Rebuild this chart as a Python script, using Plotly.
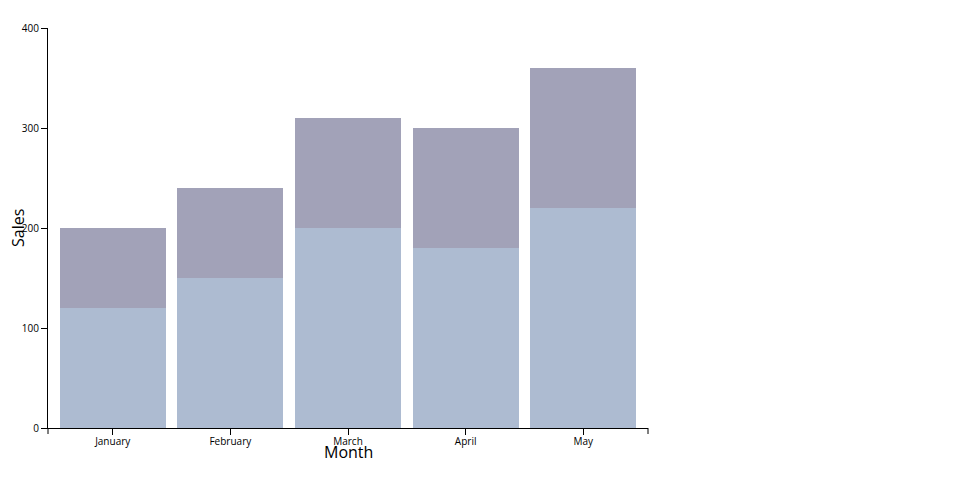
import plotly.graph_objects as go

months = ["January", "February", "March", "April", "May"]
series_a = [120, 150, 200, 180, 220]
series_b = [80, 90, 110, 120, 140]
y_ticks = [0, 100, 200, 300, 400]

fig = go.Figure()
fig.add_trace(go.Bar(x=months, y=series_a, marker=dict(color="rgb(173,187,209)", line=dict(width=0)), name="A"))
fig.add_trace(go.Bar(x=months, y=series_b, marker=dict(color="rgb(162,162,184)", line=dict(width=0)), name="B"))

fig.update_layout(
    barmode="stack", bargap=0.1,
    width=944, height=484,
    margin=dict(l=40, r=304, t=20, b=64, autoexpand=False),
    paper_bgcolor="white", plot_bgcolor="white",
    showlegend=False,
    font=dict(family="Open Sans", color="black", size=10),
    xaxis=dict(range=[-0.55, 4.55], showline=True, linecolor="black", linewidth=1,
               ticks="outside", ticklen=6, tickcolor="black", showgrid=False,
               tickfont=dict(size=10, color="black"), ticklabelstandoff=-2, fixedrange=True),
    yaxis=dict(range=[0, 400], tickvals=y_ticks, showline=True, linecolor="black", linewidth=1,
               ticks="outside", ticklen=6, tickcolor="black", showgrid=False, zeroline=False,
               tickfont=dict(size=10, color="black"), fixedrange=True),
    annotations=[
        dict(text="Month", xref="paper", yref="paper", x=0.5, y=-0.06, showarrow=False,
             xanchor="center", yanchor="middle", font=dict(size=16, family="Open Sans", color="black")),
        dict(text="Sales", xref="paper", yref="paper", x=-0.05, y=0.5, showarrow=False,
             textangle=-90, xanchor="center", yanchor="middle", font=dict(size=16, family="Open Sans", color="black")),
    ],
    shapes=[
        dict(type="line", xref="x domain", yref="y domain", x0=0, x1=0, y0=0, y1=-0.015,
             line=dict(color="black", width=1)),
        dict(type="line", xref="x domain", yref="y domain", x0=1, x1=1, y0=0, y1=-0.015,
             line=dict(color="black", width=1)),
    ],
)

fig.write_html("out.html")
